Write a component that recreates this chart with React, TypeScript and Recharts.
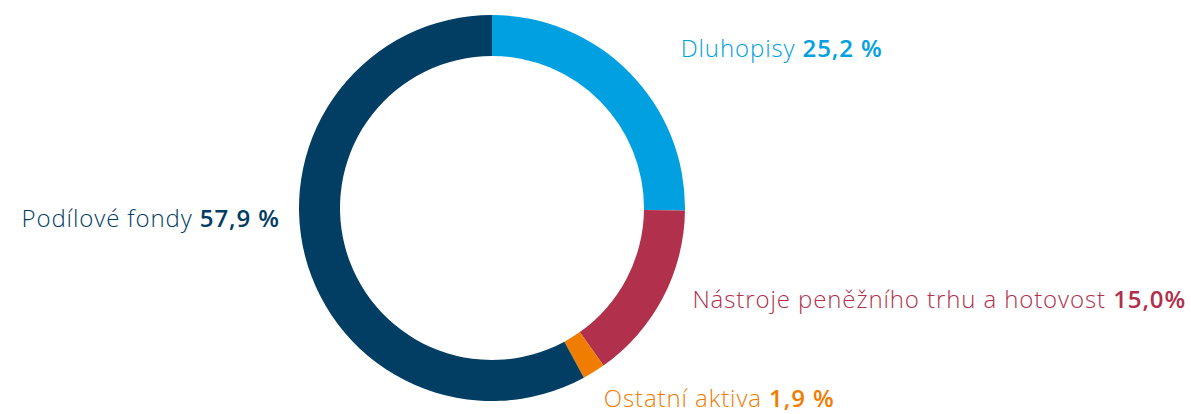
import { PieChart, Pie, Cell } from 'recharts';

const categories = ['Dluhopisy', 'Nástroje peněžního trhu a hotovost', 'Ostatní aktiva', 'Podílové fondy'];
const shares = [25.2, 15.0, 1.9, 57.9];
const valueLabels = ['25,2 %', '15,0%', '1,9 %', '57,9 %'];

const colors = ['#00a0e1', '#b1304b', '#f07d00', '#023d63'];
// label nudges relative to the radial anchor point
const labelNudge = [
  { dx: 30, dy: -4 },
  { dx: 3, dy: -14 },
  { dx: -6, dy: 0 },
  { dx: 4, dy: -46 },
];

const data = categories.map((name, i) => ({ name, value: shares[i], text: valueLabels[i] }));

const RADIAN = Math.PI / 180;

const renderLabel = (props: any) => {
  const { cx, cy, midAngle, outerRadius, index } = props;
  const r = outerRadius + 30;
  const cos = Math.cos(-midAngle * RADIAN);
  const sin = Math.sin(-midAngle * RADIAN);
  const x = cx + r * cos + labelNudge[index].dx;
  const y = cy + r * sin + labelNudge[index].dy;
  return (
    <text
      x={x}
      y={y}
      fill={colors[index]}
      textAnchor={cos >= 0 ? 'start' : 'end'}
      dominantBaseline="central"
      fontFamily="'Open Sans', sans-serif"
      fontSize={24}
      letterSpacing={0.9}
    >
      <tspan fontWeight={300}>{data[index].name} </tspan>
      <tspan fontWeight={600}>{data[index].text}</tspan>
    </text>
  );
};

export default function App() {
  return (
    <div style={{ position: 'absolute', left: 0, top: 0, width: 1191, height: 414, background: '#fff' }}>
      <PieChart width={1191} height={414} margin={{ top: 0, right: 0, bottom: 0, left: 0 }}>
        <Pie
          data={data}
          dataKey="value"
          nameKey="name"
          cx={492}
          cy={208}
          outerRadius={193}
          innerRadius={152}
          startAngle={90}
          endAngle={-270}
          stroke="none"
          label={renderLabel}
          labelLine={false}
          isAnimationActive={false}
        >
          {data.map((d, i) => (
            <Cell key={d.name} fill={colors[i]} />
          ))}
        </Pie>
      </PieChart>
    </div>
  );
}
